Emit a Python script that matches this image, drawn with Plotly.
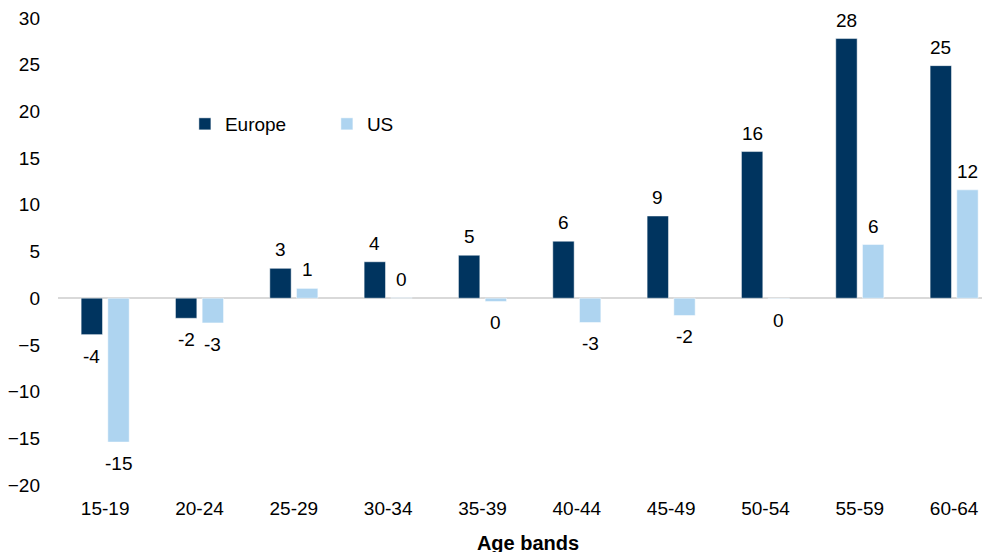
import plotly.graph_objects as go

categories = ["15-19", "20-24", "25-29", "30-34", "35-39", "40-44", "45-49", "50-54", "55-59", "60-64"]
europe = [-3.9, -2.15, 3.2, 3.9, 4.6, 6.1, 8.8, 15.7, 27.8, 24.9]
us = [-15.4, -2.65, 1.05, 0.05, -0.35, -2.6, -1.85, -0.05, 5.75, 11.6]
y_ticks = [-20, -15, -10, -5, 0, 5, 10, 15, 20, 25, 30]


def label(v):
    r = int(round(v))
    return "0" if r == 0 else str(r)


FONT = "Liberation Sans, Arial, sans-serif"
fig = go.Figure()
fig.add_trace(go.Bar(
    name="Europe", x=categories, y=europe,
    marker=dict(color="#00345F", line=dict(color="rgba(255,255,255,0.6)", width=0.8)),
))
fig.add_trace(go.Bar(
    name="US", x=categories, y=us,
    marker=dict(color="#AED4F0", line=dict(color="rgba(255,255,255,0.6)", width=0.8)),
))

# value labels placed through the axes at each bar's end
annotations = []
for series, off in ((europe, -0.1415), (us, 0.1415)):
    for i, v in enumerate(series):
        annotations.append(dict(
            x=i + off, y=v, xref="x", yref="y", text=label(v), showarrow=False,
            xanchor="center", yanchor="middle", yshift=18.5 if v >= 0 else -21.5,
            font=dict(size=19, color="black", family=FONT),
        ))

fig.update_layout(
    width=990, height=552,
    margin=dict(l=50, r=0, t=10, b=75, autoexpand=False),
    paper_bgcolor="white", plot_bgcolor="white",
    barmode="group", bargap=0.434, bargroupgap=0.2,
    font=dict(family=FONT, size=19, color="black"),
    showlegend=True,
    legend=dict(orientation="h", x=0.135, y=0.773, xanchor="left", yanchor="middle",
                font=dict(size=19), itemwidth=30, tracegroupgap=0,
                entrywidthmode="pixels", entrywidth=97, bgcolor="rgba(0,0,0,0)"),
    annotations=annotations,
)
fig.update_xaxes(
    type="category", range=[-0.5, 9.465], showgrid=False, showline=False,
    zeroline=False, ticks="outside", ticklen=6, tickcolor="rgba(0,0,0,0)",
    tickfont=dict(size=19), automargin=False,
    title=dict(text="<b>Age bands</b>", font=dict(size=20), standoff=18),
)
fig.update_yaxes(
    range=[-20, 30], tickvals=y_ticks, showgrid=False, showline=False,
    zeroline=True, zerolinecolor="#D9D9D9", zerolinewidth=2,
    ticks="", tickfont=dict(size=19), ticklabelstandoff=17, automargin=False,
    ticklabeloverflow="allow",
)

fig.write_html("out.html")
